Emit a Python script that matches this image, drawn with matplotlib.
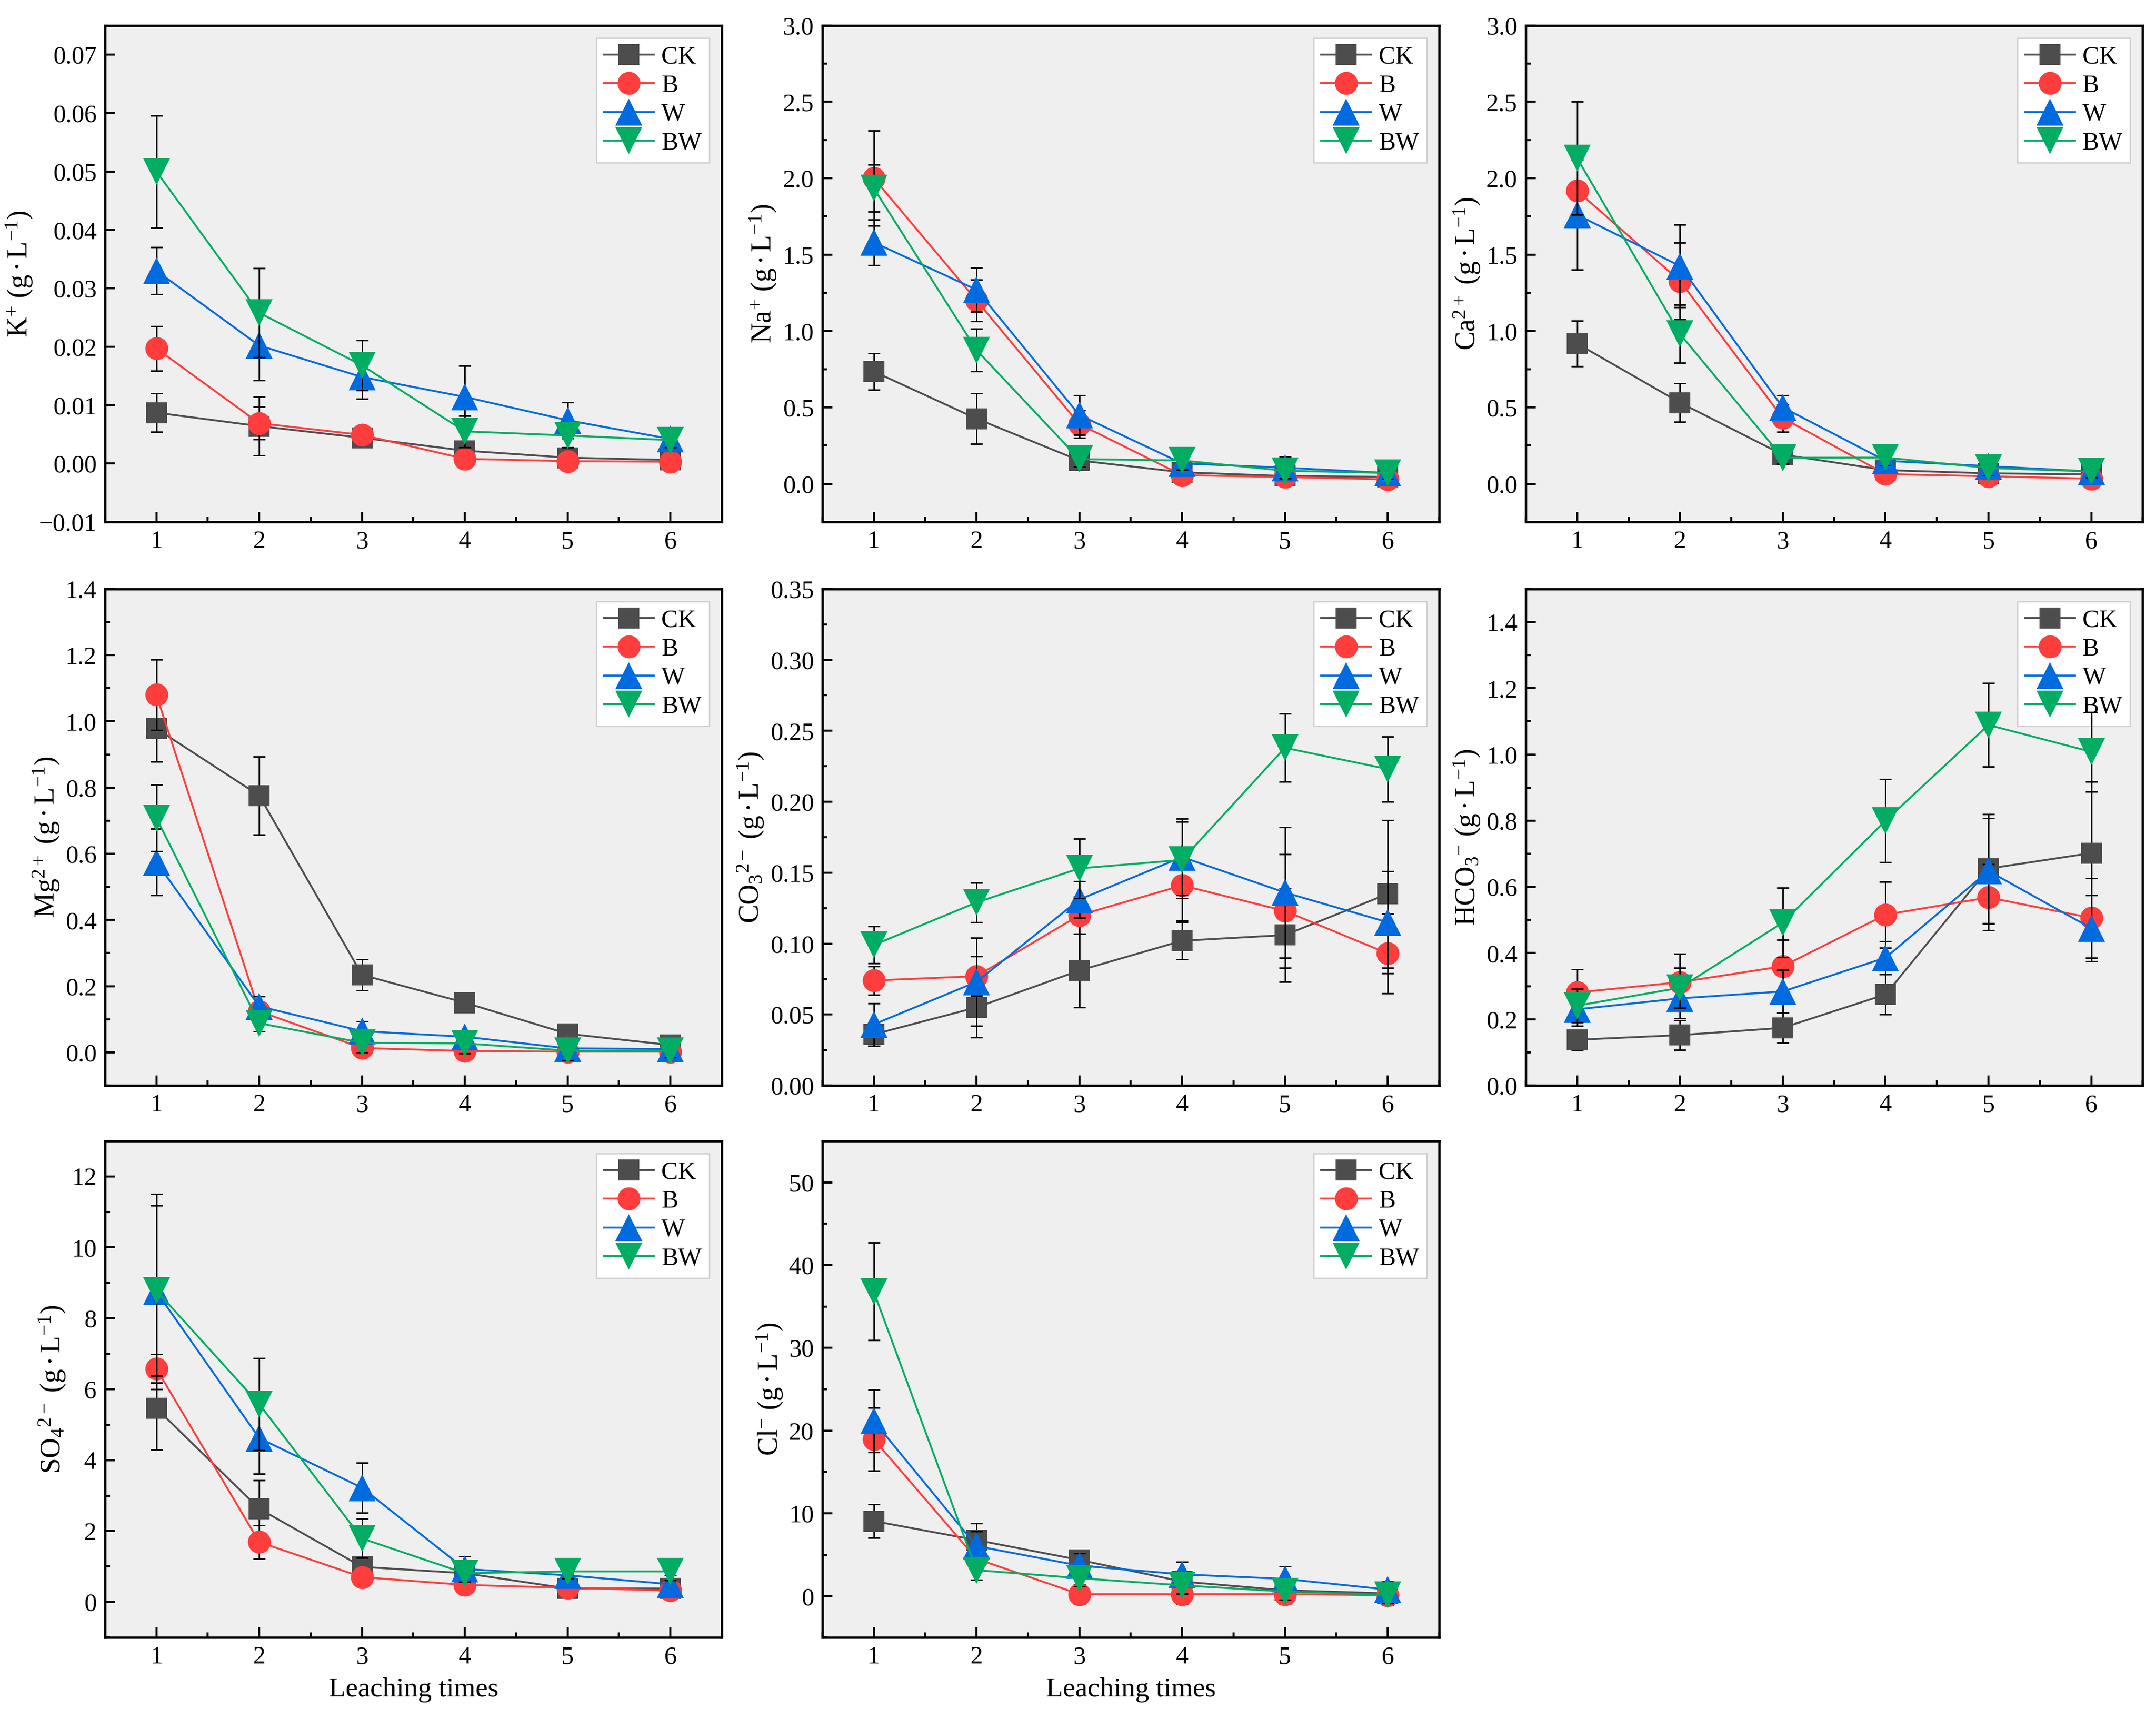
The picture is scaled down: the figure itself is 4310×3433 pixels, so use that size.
import numpy as np
import matplotlib
matplotlib.use("Agg")
from matplotlib import pyplot as plt
from matplotlib.ticker import MultipleLocator

plt.rcParams["font.family"] = ["Liberation Serif", "DejaVu Serif"]
plt.rcParams["mathtext.fontset"] = "custom"
plt.rcParams["mathtext.rm"] = "Liberation Serif"
plt.rcParams["mathtext.it"] = "Liberation Serif:italic"
plt.rcParams["mathtext.bf"] = "Liberation Serif:bold"
plt.rcParams["font.size"] = 11.5

# leaching times and treatments
times = [1, 2, 3, 4, 5, 6]
groups = ["CK", "B", "W", "BW"]

# values per panel: rows are CK, B, W, BW
k_mean = [[0.0087, 0.0064, 0.0044, 0.0022, 0.0010, 0.0006],
          [0.0197, 0.0069, 0.0049, 0.0008, 0.0004, 0.0003],
          [0.0330, 0.0202, 0.0148, 0.0114, 0.0074, 0.0042],
          [0.0500, 0.0258, 0.0168, 0.0055, 0.0048, 0.0040]]
k_err = [[0.0033, 0.0050, 0.0012, 0.0010, 0.0010, 0.0008],
         [0.0038, 0.0028, 0.0012, 0.0012, 0.0008, 0.0008],
         [0.0040, 0.0060, 0.0037, 0.0053, 0.0031, 0.0012],
         [0.0096, 0.0076, 0.0043, 0.0027, 0.0020, 0.0012]]

na_mean = [[0.735, 0.426, 0.152, 0.075, 0.050, 0.045],
           [2.000, 1.200, 0.390, 0.056, 0.044, 0.028],
           [1.580, 1.270, 0.450, 0.133, 0.105, 0.070],
           [1.935, 0.875, 0.161, 0.152, 0.085, 0.070]]
na_err = [[0.12, 0.165, 0.05, 0.04, 0.04, 0.03],
          [0.31, 0.135, 0.09, 0.05, 0.04, 0.04],
          [0.15, 0.145, 0.13, 0.08, 0.07, 0.06],
          [0.155, 0.14, 0.05, 0.06, 0.05, 0.04]]

ca_mean = [[0.917, 0.531, 0.190, 0.089, 0.068, 0.061],
           [1.917, 1.327, 0.430, 0.063, 0.049, 0.033],
           [1.760, 1.425, 0.500, 0.150, 0.115, 0.080],
           [2.130, 0.980, 0.170, 0.171, 0.103, 0.080]]
ca_err = [[0.15, 0.125, 0.04, 0.05, 0.05, 0.04],
          [0.23, 0.25, 0.09, 0.06, 0.05, 0.04],
          [0.36, 0.27, 0.08, 0.08, 0.07, 0.06],
          [0.37, 0.19, 0.04, 0.05, 0.05, 0.04]]

mg_mean = [[0.978, 0.776, 0.234, 0.150, 0.056, 0.022],
           [1.080, 0.124, 0.013, 0.004, 0.002, 0.002],
           [0.575, 0.139, 0.064, 0.047, 0.012, 0.010],
           [0.708, 0.088, 0.029, 0.027, 0.005, 0.005]]
mg_err = [[0.10, 0.118, 0.047, 0.025, 0.02, 0.01],
          [0.107, 0.025, 0.015, 0.02, 0.01, 0.01],
          [0.10, 0.03, 0.03, 0.02, 0.03, 0.02],
          [0.10, 0.025, 0.03, 0.03, 0.03, 0.02]]

co3_mean = [[0.036, 0.055, 0.081, 0.102, 0.106, 0.135],
            [0.074, 0.077, 0.120, 0.141, 0.123, 0.093],
            [0.043, 0.073, 0.131, 0.161, 0.136, 0.115],
            [0.099, 0.129, 0.153, 0.159, 0.238, 0.223]]
co3_err = [[0.008, 0.021, 0.026, 0.013, 0.033, 0.052],
           [0.010, 0.014, 0.013, 0.025, 0.040, 0.028],
           [0.015, 0.031, 0.013, 0.027, 0.046, 0.036],
           [0.013, 0.014, 0.021, 0.027, 0.024, 0.023]]

hco3_mean = [[0.138, 0.152, 0.174, 0.275, 0.655, 0.702],
             [0.281, 0.312, 0.360, 0.516, 0.568, 0.506],
             [0.230, 0.263, 0.284, 0.386, 0.648, 0.475],
             [0.241, 0.295, 0.492, 0.800, 1.089, 1.008]]
hco3_err = [[0.03, 0.045, 0.045, 0.06, 0.165, 0.215],
            [0.07, 0.085, 0.08, 0.10, 0.10, 0.12],
            [0.05, 0.06, 0.065, 0.05, 0.16, 0.10],
            [0.05, 0.06, 0.105, 0.125, 0.126, 0.12]]

so4_mean = [[5.46, 2.63, 0.99, 0.81, 0.38, 0.38],
            [6.58, 1.69, 0.70, 0.48, 0.40, 0.32],
            [8.75, 4.62, 3.22, 0.93, 0.75, 0.50],
            [8.78, 5.58, 1.79, 0.81, 0.86, 0.86]]
so4_err = [[1.17, 0.80, 0.25, 0.30, 0.20, 0.20],
           [0.40, 0.47, 0.20, 0.20, 0.15, 0.15],
           [2.75, 1.00, 0.70, 0.35, 0.30, 0.25],
           [2.40, 1.30, 0.55, 0.25, 0.20, 0.25]]

cl_mean = [[9.06, 6.76, 4.37, 1.75, 0.69, 0.32],
           [18.95, 4.50, 0.23, 0.23, 0.23, 0.10],
           [21.16, 6.04, 3.68, 2.62, 2.07, 0.78],
           [36.80, 3.13, 2.16, 1.29, 0.55, 0.14]]
cl_err = [[2.0, 2.0, 1.0, 1.0, 0.8, 0.8],
          [3.8, 1.5, 1.2, 1.2, 1.2, 1.2],
          [3.8, 1.8, 1.5, 1.5, 1.5, 1.0],
          [5.9, 1.2, 1.0, 1.0, 1.0, 1.0]]

colors = ["#4D4D4D", "#FF3D3D", "#006ADF", "#00AD62"]
markers = ["s", "o", "^", "v"]
msizes = [10, 11, 13, 13]

unit = r"(g$\,$·$\,$L$^{-1}$)"

# axes rectangles (figure fractions)
col_x = [0.0487, 0.3814, 0.7077]
row_y = [0.6962, 0.3682, 0.0469]
ax_w = 0.2861
ax_h = 0.2890

# data, err, ylabel, ylim, major step, minor step, column, row
panels = [
    (k_mean, k_err, r"K$^{+}$ " + unit, (-0.01, 0.075), 0.01, None, 0, 0),
    (na_mean, na_err, r"Na$^{+}$ " + unit, (-0.25, 3.0), 0.5, 0.25, 1, 0),
    (ca_mean, ca_err, r"Ca$^{2+}$ " + unit, (-0.25, 3.0), 0.5, 0.25, 2, 0),
    (mg_mean, mg_err, r"Mg$^{2+}$ " + unit, (-0.1, 1.4), 0.2, 0.1, 0, 1),
    (co3_mean, co3_err, r"CO$_{3}$$^{2-}$ " + unit, (0, 0.35), 0.05, 0.025, 1, 1),
    (hco3_mean, hco3_err, r"HCO$_{3}$$^{-}$ " + unit, (0, 1.5), 0.2, 0.1, 2, 1),
    (so4_mean, so4_err, r"SO$_{4}$$^{2-}$ " + unit, (-1, 13), 2, 1, 0, 2),
    (cl_mean, cl_err, r"Cl$^{-}$ " + unit, (-5, 55), 10, 5, 1, 2),
]

fig = plt.figure(figsize=(4310 / 300, 3433 / 300), dpi=300)

for mean, err, ylab, ylim, major, minor, c, r in panels:
    ax = fig.add_axes([col_x[c], row_y[r], ax_w, ax_h])
    ax.set_facecolor("#EFEFEF")
    for i, g in enumerate(groups):
        ax.errorbar(times, mean[i], yerr=err[i], fmt="none", ecolor="black",
                    elinewidth=0.7, capsize=2.8, capthick=0.7, zorder=2 + 2 * i)
        ax.plot(times, mean[i], color=colors[i], marker=markers[i],
                markersize=msizes[i], markeredgewidth=0, linewidth=0.9,
                label=g, zorder=3 + 2 * i)
    ax.set_xlim(0.5, 6.5)
    ax.set_ylim(*ylim)
    ax.xaxis.set_major_locator(MultipleLocator(1))
    ax.xaxis.set_minor_locator(MultipleLocator(0.5))
    ax.yaxis.set_major_locator(MultipleLocator(major))
    if minor:
        ax.yaxis.set_minor_locator(MultipleLocator(minor))
    ax.tick_params(which="both", direction="in", width=1.0, labelsize=12, pad=4)
    ax.tick_params(which="major", length=4.7)
    ax.tick_params(which="minor", length=2.3)
    for s in ax.spines.values():
        s.set_linewidth(1.1)
    ax.set_ylabel(ylab, fontsize=13.5, labelpad=2)
    if r == 2:
        ax.set_xlabel("Leaching times", fontsize=13.3, labelpad=4)
    leg = ax.legend(loc="upper right", fontsize=12, frameon=True, fancybox=False,
                    edgecolor="#CCCCCC", facecolor="white", framealpha=1,
                    borderaxespad=0.5, handlelength=2.0, handletextpad=0.3,
                    labelspacing=0.22, borderpad=0.3)
    leg.get_frame().set_linewidth(0.6)

fig.savefig("out.png", dpi=300)
